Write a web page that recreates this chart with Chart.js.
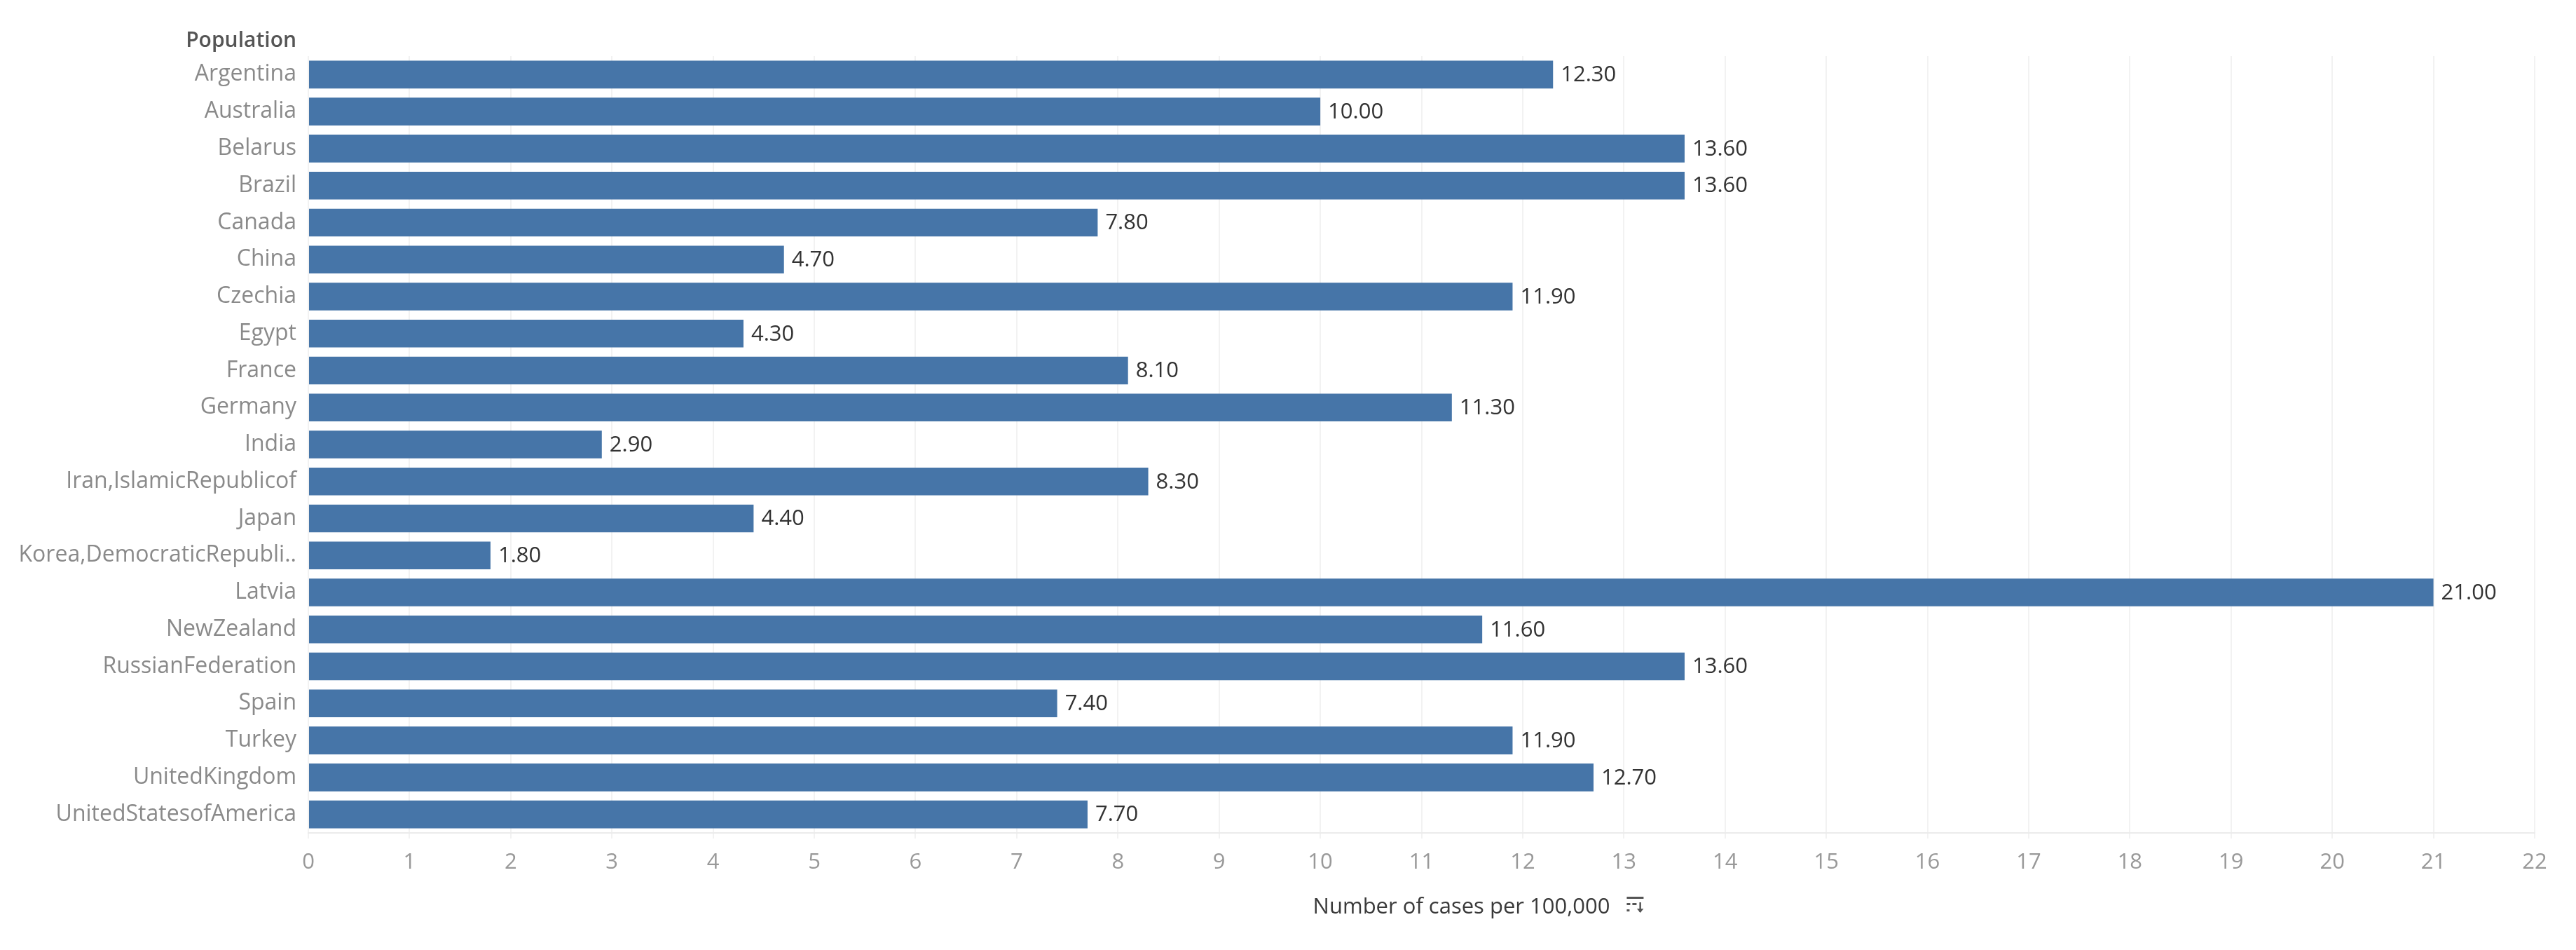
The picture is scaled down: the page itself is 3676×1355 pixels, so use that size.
<!DOCTYPE html>
<html>
<head>
<meta charset="utf-8">
<script src="https://cdn.jsdelivr.net/npm/chart.js@4.4.1/dist/chart.umd.min.js"></script>
<style>
  html, body { margin: 0; padding: 0; background: #ffffff; }
  #wrap { width: 3676px; height: 1355px; position: relative; }
</style>
</head>
<body>
<div id="wrap"><canvas id="c" width="3676" height="1355"></canvas></div>
<script>
const categories = [
  "Argentina", "Australia", "Belarus", "Brazil", "Canada", "China", "Czechia",
  "Egypt", "France", "Germany", "India", "Iran,IslamicRepublicof", "Japan",
  "Korea,DemocraticRepubli..", "Latvia", "NewZealand", "RussianFederation",
  "Spain", "Turkey", "UnitedKingdom", "UnitedStatesofAmerica"
];
const casesPer100k = [
  12.3, 10.0, 13.6, 13.6, 7.8, 4.7, 11.9,
  4.3, 8.1, 11.3, 2.9, 8.3, 4.4,
  1.8, 21.0, 11.6, 13.6,
  7.4, 11.9, 12.7, 7.7
];
const xTickMin = 0;
const xTickMax = 22;
const xTickStep = 1;
const rowHeaderText = "Population";
const xAxisTitle = "Number of cases per 100,000";

const FONT = "'Open Sans', 'Noto Sans', sans-serif";

const headerPlugin = {
  id: 'headerPlugin',
  afterDraw(chart) {
    const ctx = chart.ctx;
    const ca = chart.chartArea;
    const yScale = chart.scales.y;
    ctx.save();
    // row header
    ctx.font = "600 30px " + FONT;
    ctx.fillStyle = '#555555';
    ctx.textAlign = 'right';
    ctx.textBaseline = 'alphabetic';
    ctx.fillText(rowHeaderText, yScale.right - 17, ca.top - 13);

    // x axis title with sort icon
    ctx.font = "31px " + FONT;
    ctx.fillStyle = '#3a3a3a';
    ctx.textAlign = 'center';
    ctx.textBaseline = 'alphabetic';
    const cx = (ca.left + ca.right) / 2 + 57;
    const by = ca.bottom + 115;
    ctx.fillText(xAxisTitle, cx, by);
    const w = ctx.measureText(xAxisTitle).width;
    const ix = cx + w / 2 + 24;
    const iy = by - 24;
    ctx.fillStyle = '#555555';
    ctx.fillRect(ix, iy, 24, 3);
    ctx.fillRect(ix, iy + 9, 5, 3);
    ctx.fillRect(ix + 8, iy + 9, 6, 3);
    ctx.fillRect(ix, iy + 18, 4, 3);
    // arrow
    ctx.fillRect(ix + 18, iy + 8, 2.5, 14);
    ctx.beginPath();
    ctx.moveTo(ix + 14.5, iy + 17);
    ctx.lineTo(ix + 24, iy + 17);
    ctx.lineTo(ix + 19.25, iy + 23);
    ctx.closePath();
    ctx.fill();
    ctx.restore();
  }
};

const valueLabelPlugin = {
  id: 'valueLabelPlugin',
  afterDatasetsDraw(chart) {
    const ctx = chart.ctx;
    const meta = chart.getDatasetMeta(0);
    const ds = chart.data.datasets[0];
    ctx.save();
    ctx.font = "31px " + FONT;
    ctx.fillStyle = '#333333';
    ctx.textAlign = 'left';
    ctx.textBaseline = 'middle';
    meta.data.forEach((bar, i) => {
      ctx.fillText(ds.data[i].toFixed(2), bar.x + 11, bar.y + 1);
    });
    ctx.restore();
  }
};

function build() {
  Chart.defaults.font.family = FONT;
  new Chart(document.getElementById('c'), {
    type: 'bar',
    data: {
      labels: categories,
      datasets: [{
        data: casesPer100k,
        backgroundColor: '#4675a8',
        borderWidth: 0,
        barPercentage: 0.75,
        categoryPercentage: 1.0
      }]
    },
    options: {
      indexAxis: 'y',
      responsive: false,
      maintainAspectRatio: false,
      animation: false,
      devicePixelRatio: 1,
      layout: { padding: { top: 80, right: 59, left: 0, bottom: 0 } },
      plugins: {
        legend: { display: false },
        tooltip: { enabled: false },
        title: { display: false }
      },
      scales: {
        x: {
          type: 'linear',
          position: 'bottom',
          min: xTickMin,
          max: xTickMax,
          ticks: {
            stepSize: xTickStep,
            color: '#999999',
            font: { size: 31, family: FONT },
            padding: 16,
            maxRotation: 0,
            autoSkip: false
          },
          grid: {
            color: '#f2f2f2',
            lineWidth: 2,
            drawTicks: true,
            tickLength: 8
          },
          border: { display: true, color: '#ebebeb', width: 2 },
          afterFit(s) { s.height = 167; }
        },
        y: {
          type: 'category',
          ticks: {
            color: '#8a8a8a',
            font: { size: 32, family: FONT },
            padding: 17,
            autoSkip: false
          },
          grid: { display: false, drawTicks: false },
          border: { display: false },
          afterFit(s) { s.width = 440; }
        }
      }
    },
    plugins: [valueLabelPlugin, headerPlugin]
  });
}

if (document.fonts && document.fonts.load) {
  Promise.all([
    document.fonts.load("31px 'Open Sans'"),
    document.fonts.load("32px 'Open Sans'"),
    document.fonts.load("600 30px 'Open Sans'")
  ]).then(build, build);
} else {
  build();
}
</script>
</body>
</html>
